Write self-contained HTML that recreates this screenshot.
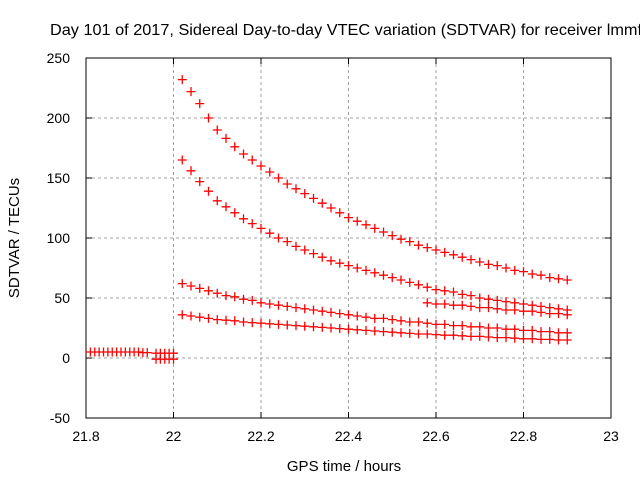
<!DOCTYPE html>
<html><head><meta charset="utf-8"><style>
body{margin:0;background:#fff}
svg{display:block;font-family:"Liberation Sans",sans-serif}
</style></head><body>
<svg id="chart" width="640" height="480">
<text x="50" y="35" font-size="16" textLength="592" lengthAdjust="spacingAndGlyphs">Day 101 of 2017, Sidereal Day-to-day VTEC variation (SDTVAR) for receiver lmmf</text>
<text x="344" y="471" font-size="15" text-anchor="middle">GPS time / hours</text>
<text transform="translate(19,238) rotate(-90)" font-size="15" text-anchor="middle">SDTVAR / TECUs</text>
<g id="grid"></g><g id="axes"></g><g id="marks"></g>
</svg>
<script>
const xTicks=[21.8,22,22.2,22.4,22.6,22.8,23];
const xTickLabels=["21.8","22","22.2","22.4","22.6","22.8","23"];
const yTicks=[-50,0,50,100,150,200,250];
const yTickLabels=["-50","0","50","100","150","200","250"];
const curveStart=22.02, curveStep=0.02;
const series1=[232,222,212,200,190,183,176,170,165,160,155,150,145,141,137,133,129,125,121,117,114,111,108,105,102,99,97,94,92,90,88,86,84,82,80,78,77,75,73,72,70,69,67,66,65];
const series2=[165,156,147,139,131,126,121,116,112,108,104,100,97,93,90,87,84,81,79,77,75,73,71,69,67,65,63,61,59,57,56,55,53,52,50,49,48,47,46,45,44,43,42,41,40];
const series3=[62,60,58,56,54,52,51,49,48,46,45,44,43,42,41,40,39,38,37,36,35,34,33,33,32,31,30,30,29,28,28,27,27,26,26,25,25,24,24,23,23,22,22,21,21];
const series4=[36,35,34,33,32,31.5,31,30,29.5,29,28.5,28,27.5,27,26.5,26,25.5,25,24.5,24,23.5,23,22.5,22,21.5,21,20.5,20,20,19.5,19,19,18.5,18,18,17.5,17,17,16.5,16,16,15.5,15.5,15,15];
const series5Start=22.58;
const series5=[46,45,45,44,44,43,42,42,41,40,40,39,39,38,37,37,36];
const earlyStart=21.81, earlyStep=0.01;
const earlySeries=[5,5,5,5,5,5,5,5,5,5,5,5,4.5,4.5];
const lateEarlyStart=21.96;
const lateEarlyA=[4,4,4,4,4];
const lateEarlyB=[-1,-1,-1,-1,-1];

const L=86,R=611,T=58,B=418;
const xs=v=>L+(v-21.8)/1.2*(R-L);
const ys=v=>B-(v+50)/300*(B-T);
const NS="http://www.w3.org/2000/svg";
function mk(tag,attrs,parent){const e=document.createElementNS(NS,tag);for(const k in attrs)e.setAttribute(k,attrs[k]);parent.appendChild(e);return e;}
const grid=document.getElementById('grid'),axes=document.getElementById('axes'),marks=document.getElementById('marks');
xTicks.forEach((t,i)=>{const x=xs(t);
 if(i>0&&i<xTicks.length-1){const g=mk('line',{x1:x,x2:x,y1:T,y2:B,stroke:'#a0a0a0','stroke-dasharray':'3,3'},grid);
 
 }
 mk('line',{x1:x,x2:x,y1:B,y2:B-6,stroke:'#000'},axes);
 mk('line',{x1:x,x2:x,y1:T,y2:T+6,stroke:'#000'},axes);
 const tx=mk('text',{x:x,y:B+23,'font-size':14,'text-anchor':'middle'},axes);tx.textContent=xTickLabels[i];
 
 });
yTicks.forEach((t,i)=>{const y=ys(t);
 if(i>0&&i<yTicks.length-1){const g=mk('line',{x1:L,x2:R,y1:y,y2:y,stroke:'#a0a0a0','stroke-dasharray':'3,3'},grid);
 
 }
 mk('line',{x1:L,x2:L+6,y1:y,y2:y,stroke:'#000'},axes);
 mk('line',{x1:R,x2:R-6,y1:y,y2:y,stroke:'#000'},axes);
 const tx=mk('text',{x:L-16,y:y+5,'font-size':14,'text-anchor':'end'},axes);tx.textContent=yTickLabels[i];
 
 });
const fr=mk('rect',{x:L,y:T,width:R-L,height:B-T,fill:'none',stroke:'#000','stroke-width':1},axes);


function plot(arr,x0,dx,name){const g=mk('g',{},marks);
 
 
 let d='';arr.forEach((v,i)=>{const x=xs(x0+i*dx),y=ys(v);d+=`M${x-4.5},${y}h9M${x},${y-4.5}v9`;});
 mk('path',{d:d,stroke:'#f00','stroke-width':1.3,fill:'none'},g);}
plot(series1,curveStart,curveStep,'series-1');
plot(series2,curveStart,curveStep,'series-2');
plot(series3,curveStart,curveStep,'series-3');
plot(series4,curveStart,curveStep,'series-4');
plot(series5,series5Start,curveStep,'series-5');
plot(earlySeries,earlyStart,earlyStep,'early-series');
plot(lateEarlyA,lateEarlyStart,earlyStep,'late-early-series-a');
plot(lateEarlyB,lateEarlyStart,earlyStep,'late-early-series-b');
</script>
</body></html>
